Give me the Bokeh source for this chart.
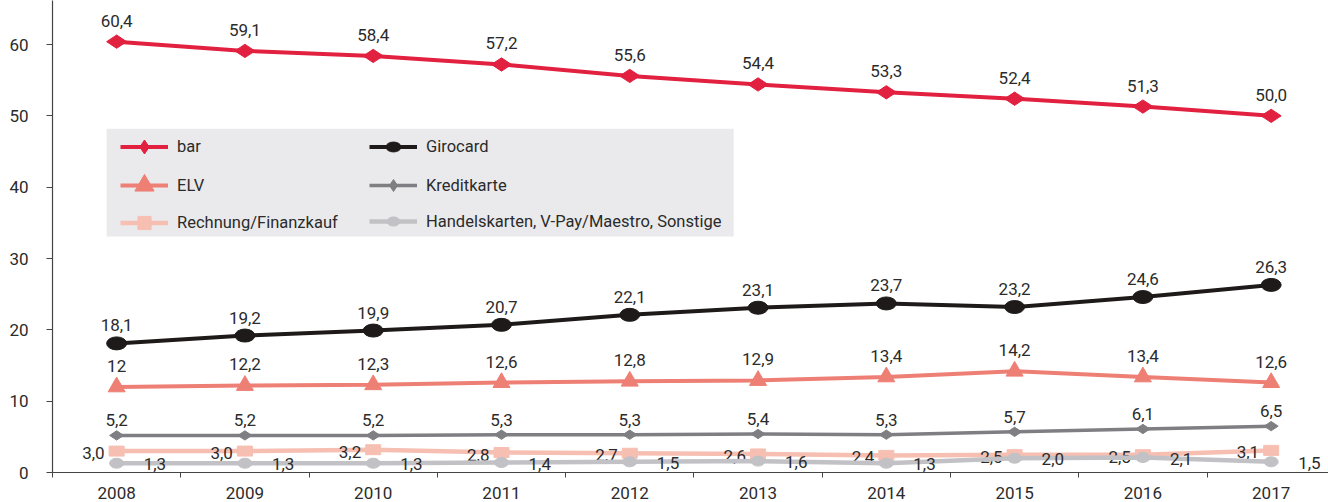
import math
from bokeh.plotting import figure
from bokeh.models import (ColumnDataSource, Range1d, FixedTicker, Legend, LegendItem)
from bokeh.core.properties import value
from bokeh.embed import file_html
from bokeh.resources import INLINE

years = ["2008", "2009", "2010", "2011", "2012", "2013", "2014", "2015", "2016", "2017"]
bar_vals = [60.4, 59.1, 58.4, 57.2, 55.6, 54.4, 53.3, 52.4, 51.3, 50.0]
girocard_vals = [18.1, 19.2, 19.9, 20.7, 22.1, 23.1, 23.7, 23.2, 24.6, 26.3]
elv_vals = [12, 12.2, 12.3, 12.6, 12.8, 12.9, 13.4, 14.2, 13.4, 12.6]
kredit_vals = [5.2, 5.2, 5.2, 5.3, 5.3, 5.4, 5.3, 5.7, 6.1, 6.5]
rechnung_vals = [3.0, 3.0, 3.2, 2.8, 2.7, 2.6, 2.4, 2.5, 2.5, 3.1]
handel_vals = [1.3, 1.3, 1.3, 1.4, 1.5, 1.6, 1.3, 2.0, 2.1, 1.5]
y_ticks = [0, 10, 20, 30, 40, 50, 60]

FONT = "Roboto"
TXT = "#2b2b2b"

def fmt(v):
    if isinstance(v, int):
        return str(v)
    return f"{v:.1f}".replace(".", ",")

xs = list(range(len(years)))

p = figure(width=1328, height=502, output_backend="svg", toolbar_location=None,
           x_range=Range1d(-0.5, 9.447), y_range=Range1d(0, 66.17),
           min_border_left=52, min_border_right=0, min_border_top=0, min_border_bottom=30)
p.outline_line_color = None
p.xgrid.visible = False
p.ygrid.visible = False
p.background_fill_color = "white"

# axes
p.xaxis.ticker = FixedTicker(ticks=xs, minor_ticks=[i - 0.5 for i in range(len(years) + 1)])
p.xaxis.major_label_overrides = {i: y for i, y in enumerate(years)}
p.xaxis.major_tick_out = 0
p.xaxis.major_tick_in = 0
p.xaxis.minor_tick_out = 5
p.xaxis.minor_tick_in = 0
p.xaxis.minor_tick_line_color = "#444444"
p.xaxis.axis_line_color = "#444444"
p.xaxis.axis_line_width = 1.2
p.xaxis.major_label_standoff = 9
p.xaxis.major_label_text_font = FONT
p.xaxis.major_label_text_font_size = "17px"
p.xaxis.major_label_text_color = TXT

p.yaxis.ticker = FixedTicker(ticks=y_ticks, minor_ticks=[])
p.yaxis.major_tick_out = 6
p.yaxis.major_tick_in = 0
p.yaxis.major_tick_line_color = "#444444"
p.yaxis.axis_line_color = "#444444"
p.yaxis.axis_line_width = 1.2
p.yaxis.major_label_standoff = 18
p.yaxis.major_label_text_font = FONT
p.yaxis.major_label_text_font_size = "17px"
p.yaxis.major_label_text_color = TXT

# legend background box
p.quad(left=[-0.078], right=[4.81], top=[48.18], bottom=[33.1],
       fill_color="#EAEAEC", line_color=None)

series = [
    # name, values, color, marker, line width, label placement, y offset
    ("bar", bar_vals, "#E2203F", "diamond", 4, "top", -21),
    ("Girocard", girocard_vals, "#1E1A1A", "ellipse", 4, "top", -18),
    ("ELV", elv_vals, "#EE7F74", "triangle", 4, "top", -21),
    ("Kreditkarte", kredit_vals, "#7F7F83", "diamond_s", 3.5, "top", -15),
    ("Rechnung/Finanzkauf", rechnung_vals, "#F6BFB2", "rect", 4.5, "left", 2),
    ("Handelskarten, V-Pay/Maestro, Sonstige", handel_vals, "#C2C2C6", "ellipse_s", 4.5, "right", 1),
]

leg_renderers = {}
for name, vals, color, marker, lw, place, yoff in series:
    src = ColumnDataSource(dict(x=xs, y=vals, lab=[fmt(v) for v in vals]))
    lr = p.line("x", "y", source=src, line_color=color, line_width=lw)
    if marker == "diamond":
        mr = p.scatter("x", "y", source=src, marker="diamond", size=20, angle=math.pi / 2,
                       fill_color=color, line_color=color)
        leg = [lr, mr]
    elif marker == "diamond_s":
        mr = p.scatter("x", "y", source=src, marker="diamond", size=14, angle=math.pi / 2,
                       fill_color=color, line_color=color)
        leg = [lr, mr]
    elif marker == "triangle":
        mr = p.scatter("x", "y", source=src, marker="triangle", size=17,
                       fill_color=color, line_color=color)
        leg = [lr, mr]
    elif marker == "ellipse":
        mr = p.ellipse("x", "y", source=src, width=20, height=13, width_units="screen",
                       height_units="screen", fill_color=color, line_color=color)
        leg = [lr, mr]
    elif marker == "ellipse_s":
        mr = p.ellipse("x", "y", source=src, width=14, height=10, width_units="screen",
                       height_units="screen", fill_color=color, line_color=color)
        leg = [lr, mr]
    else:
        mr = p.rect("x", "y", source=src, width=15, height=10, width_units="screen",
                    height_units="screen", fill_color=color, line_color=color)
        # legend-only proxy (not drawn in the plot area)
        proxy = p.scatter(x=[float("nan")], y=[float("nan")], marker="square",
                          fill_color=color, line_color=color)
        leg = [lr, proxy]
    leg_renderers[name] = leg
    if place == "top":
        p.text("x", "y", text="lab", source=src, text_align="center", text_baseline="middle",
               y_offset=yoff, text_font=value(FONT), text_font_size="17px", text_color=TXT)
    elif place == "left":
        p.text("x", "y", text="lab", source=src, text_align="right", text_baseline="middle",
               x_offset=-12, y_offset=yoff, text_font=value(FONT), text_font_size="17px", text_color=TXT)
    else:
        p.text("x", "y", text="lab", source=src, text_align="left", text_baseline="middle",
               x_offset=27, y_offset=yoff, text_font=value(FONT), text_font_size="17px", text_color=TXT)

# one legend per entry: (name, x location, row centre y in px from top, glyph height)
FRAME_BOTTOM = 472
legend_rows = [
    ("bar", 68, 146.3, 35),
    ("ELV", 68, 185.0, 48),
    ("Rechnung/Finanzkauf", 68, 222.7, 33),
    ("Girocard", 317, 146.3, 19),
    ("Kreditkarte", 317, 185.0, 30),
    ("Handelskarten, V-Pay/Maestro, Sonstige", 317, 222.7, 16),
]
for name, lx, cy, gh in legend_rows:
    lg = Legend(items=[LegendItem(label=name, renderers=leg_renderers[name])],
                location=(lx, FRAME_BOTTOM - cy - gh / 2), orientation="vertical",
                background_fill_alpha=0, border_line_color=None,
                glyph_width=48, glyph_height=gh, label_height=10,
                label_standoff=9, spacing=0, padding=0, margin=0,
                label_text_font=FONT, label_text_font_size="16.5px", label_text_color=TXT)
    p.add_layout(lg, "center")

open("out.html", "w").write(file_html(p, INLINE))
